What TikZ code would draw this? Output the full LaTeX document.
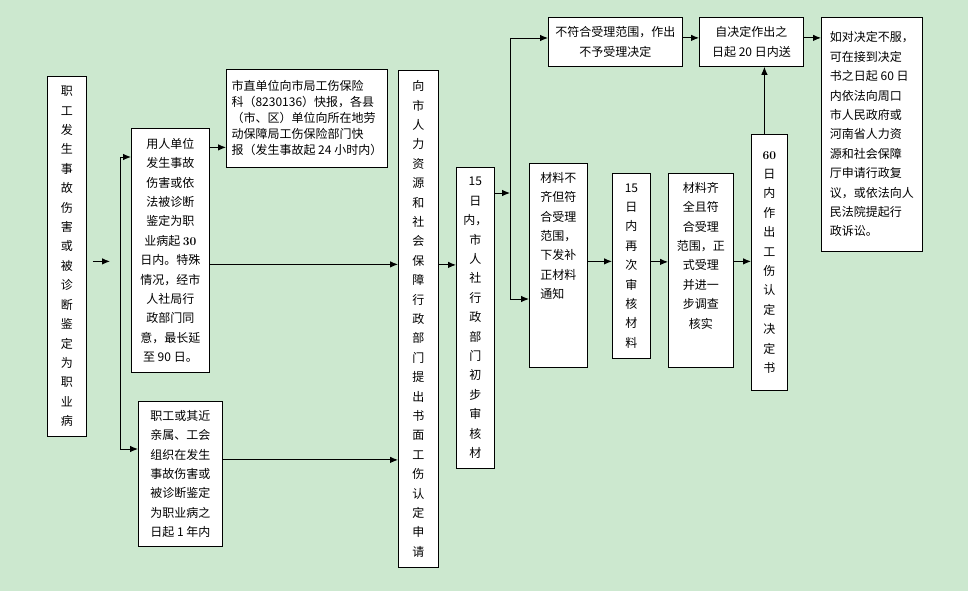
\documentclass[tikz,border=0pt]{standalone}
\usepackage{fontspec}
\newfontfamily\cjk{Noto Sans CJK SC}
\usetikzlibrary{arrows.meta}
\definecolor{bggreen}{RGB}{204,232,207}
\tikzstyle{arrow} = [line width=0.9pt,->,>={Latex[length=8pt,width=6.5pt]}]
\tikzstyle{box} = [draw, fill=white, line width=0.8pt, inner sep=0pt, anchor=north west, align=center, font=\cjk\fontsize{12}{19.4}\selectfont]
\tikzstyle{txt} = [inner sep=0pt, font=\cjk\fontsize{12}{19.4}\selectfont]

\begin{document}
\begin{tikzpicture}[x=1pt,y=-1pt]
\fill[bggreen] (0,0) rectangle (968,591);
\useasboundingbox (0,0) rectangle (968,591);

% first column
\node[box, minimum width=39pt, minimum height=360pt] (report) at (47,76)
 {职\\工\\发\\生\\事\\故\\伤\\害\\或\\被\\诊\\断\\鉴\\定\\为\\职\\业\\病};

% time limits
\node[box, minimum width=78pt, minimum height=244pt] (unit) at (131,128)
 {用人单位\\发生事故\\伤害或依\\法被诊断\\鉴定为职\\业病起 {\rmfamily\bfseries 30}\\日内。特殊\\情况，经市\\人社局行\\政部门同\\意，最长延\\至 90 日。};
\node[box, minimum width=84pt, minimum height=145pt] (worker) at (138,401)
 {职工或其近\\亲属、工会\\组织在发生\\事故伤害或\\被诊断鉴定\\为职业病之\\日起 1 年内};
\node[box, minimum width=161pt, minimum height=98pt, align=left,
 font=\cjk\fontsize{12}{16}\selectfont] (quick) at (226,69)
 {市直单位向市局工伤保险\\科（8230136）快报，各县\\（市、区）单位向所在地劳\\动保障局工伤保险部门快\\报（发生事故起 24 小时内）};

% application and first check
\node[box, minimum width=40pt, minimum height=497pt] (apply) at (398,70)
 {向\\市\\人\\力\\资\\源\\和\\社\\会\\保\\障\\行\\政\\部\\门\\提\\出\\书\\面\\工\\伤\\认\\定\\申\\请};
\node[box, minimum width=38pt, minimum height=301pt] (check) at (456,167)
 {15\\日\\内，\\市\\人\\社\\行\\政\\部\\门\\初\\步\\审\\核\\材};

% results of the check
\node[box, minimum width=134pt, minimum height=49pt] (reject) at (548,17)
 {不符合受理范围，作出\\不予受理决定};
\node[box, minimum width=104pt, minimum height=49pt] (deliver) at (699,17)
 {自决定作出之\\日起 20 日内送};
\node[box, minimum width=101pt, minimum height=234pt, align=left] (appeal) at (821,17)
 {如对决定不服，\\可在接到决定\\书之日起 60 日\\内依法向周口\\市人民政府或\\河南省人力资\\源和社会保障\\厅申请行政复\\议，或依法向人\\民法院提起行\\政诉讼。};
\node[box, minimum width=58pt, minimum height=204pt,
 label={[txt, anchor=north, yshift=-9pt, align=left]north:{材料不\\齐但符\\合受理\\范围，\\下发补\\正材料\\通知}}] (supply) at (529,163) {};
\node[box, minimum width=38pt, minimum height=185pt] (recheck) at (612,173)
 {15\\日\\内\\再\\次\\审\\核\\材\\料};
\node[box, minimum width=65pt, minimum height=194pt,
 label={[txt, anchor=north, yshift=-9pt, align=center]north:{材料齐\\全且符\\合受理\\范围，正\\式受理\\并进一\\步调查\\核实}}] (accept) at (668,173) {};
\node[box, minimum width=36pt, minimum height=256pt] (decide) at (751,134)
 {{\rmfamily\bfseries 60}\\日\\内\\作\\出\\工\\伤\\认\\定\\决\\定\\书};

% connectors
\coordinate (sUnit) at (120,157);
\coordinate (sWorker) at (120,449);
\coordinate (sReject) at (510,38);
\coordinate (sSupply) at (510,299);

\draw[arrow] ([shift={(6pt,-5pt)}]report.east) -- ([shift={(-10pt,-5pt)}]report.east -| sUnit);
\draw[line width=0.9pt] (sUnit) -- (sWorker);
\draw[arrow] (sUnit) -- (sUnit -| unit.west);
\draw[arrow] (sWorker) -- (sWorker -| worker.west);
\draw[arrow] ([yshift=-29pt]quick.west -| unit.east) -- ([yshift=-29pt]quick.west);
\draw[arrow] ([yshift=-14pt]unit.east) -- ([yshift=-14pt]unit.east -| apply.west);
\draw[arrow] ([yshift=14pt]worker.east) -- ([yshift=14pt]worker.east -| apply.west);
\draw[arrow] ([yshift=54pt]apply.east) -- ([yshift=54pt]apply.east -| check.west);
\draw[arrow] ([yshift=-26pt]check.north east) -- ([yshift=-26pt]check.north east -| sReject);
\draw[line width=0.9pt] (sReject) -- (sSupply);
\draw[arrow] (sReject) -- (sReject -| reject.west);
\draw[arrow] (sSupply) -- (sSupply -| supply.west);
\draw[arrow] ([yshift=4pt]reject.east) -- ([yshift=4pt]reject.east -| deliver.west);
\draw[arrow] ([yshift=4pt]deliver.east) -- ([yshift=4pt]deliver.east -| appeal.west);
\draw[arrow] ([yshift=4pt]supply.east) -- ([yshift=4pt]supply.east -| recheck.west);
\draw[arrow] ([yshift=4pt]recheck.east) -- ([yshift=4pt]recheck.east -| accept.west);
\draw[arrow] ([yshift=9pt]accept.east) -- ([yshift=9pt]accept.east -| decide.west);
\draw[arrow] ([xshift=-5pt]decide.north) -- ([xshift=-5pt]decide.north |- deliver.south);
\end{tikzpicture}
\end{document}
